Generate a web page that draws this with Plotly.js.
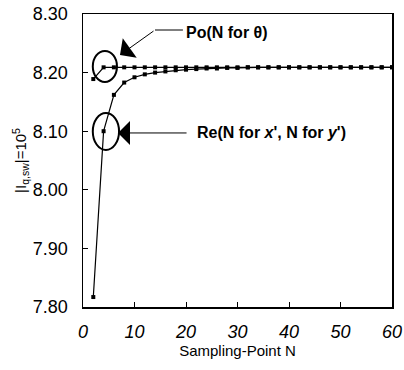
<!DOCTYPE html>
<html>
<head>
<meta charset="utf-8">
<script src="https://cdn.plot.ly/plotly-3.0.1.min.js"></script>
<style>
html,body{margin:0;padding:0;background:#fff;}
#chart{width:404px;height:370px;}
</style>
</head>
<body>
<div id="chart"></div>
<script>
// Sampling points N
const samplingN = [2,4,6,8,10,12,14,16,18,20,22,24,26,28,30,32,34,36,38,40,42,44,46,48,50,52,54,56,58,60];
// Po (N for theta)
const poValues = [8.189,8.209,8.209,8.209,8.209,8.209,8.209,8.209,8.209,8.209,8.209,8.209,8.209,8.209,8.209,8.209,8.209,8.209,8.209,8.209,8.209,8.209,8.209,8.209,8.209,8.209,8.209,8.209,8.209,8.209];
// Re (N for x', N for y')
const reValues = [7.817,8.100,8.162,8.183,8.192,8.197,8.200,8.202,8.204,8.205,8.206,8.207,8.207,8.208,8.208,8.209,8.209,8.209,8.209,8.209,8.209,8.209,8.209,8.209,8.209,8.209,8.209,8.209,8.209,8.209];
const xTicks = [0,10,20,30,40,50,60];
const yTicks = [7.80,7.90,8.00,8.10,8.20,8.30];
const yTickLabels = ['7.80','7.90','8.00','8.10','8.20','8.30'];

const FONT = 'Liberation Sans, Arial, sans-serif';

const traces = [
  {x: samplingN, y: reValues, mode: 'lines+markers', name: 'Re',
   line: {color: '#000', width: 1.2}, marker: {symbol: 'square', size: 4, color: '#000'}},
  {x: samplingN, y: poValues, mode: 'lines+markers', name: 'Po',
   line: {color: '#000', width: 1.2}, marker: {symbol: 'square', size: 4, color: '#000'}}
];

const layout = {
  width: 404, height: 370,
  margin: {l: 83, r: 12, t: 14, b: 63},
  paper_bgcolor: '#fff', plot_bgcolor: '#fff',
  showlegend: false,
  font: {family: FONT, color: '#000'},
  xaxis: {
    range: [0, 60], tickvals: xTicks, ticktext: xTicks.map(v => '<i>' + v + '</i>'),
    ticks: 'inside', ticklen: 5, tickcolor: '#000', tickwidth: 1,
    showline: true, linecolor: '#000', linewidth: 1.5, mirror: true,
    showgrid: false, zeroline: false,
    tickfont: {size: 18, family: FONT},
    ticklabelstandoff: 8,
    title: {text: 'Sampling-Point N', font: {size: 15, family: FONT}, standoff: 1}
  },
  yaxis: {
    range: [7.80, 8.30], tickvals: yTicks, ticktext: yTickLabels,
    ticks: 'inside', ticklen: 5, tickcolor: '#000', tickwidth: 1,
    showline: true, linecolor: '#000', linewidth: 1.5, mirror: true,
    showgrid: false, zeroline: false,
    tickfont: {size: 18, family: FONT},
    ticklabelstandoff: 10,
    title: {text: '|I<sub>q,sw</sub>|=10<sup>5</sup>', font: {size: 15, family: FONT}, standoff: 2}
  },
  shapes: [
    {type: 'circle', xref: 'x', yref: 'y', x0: 1.9, x1: 6.6, y0: 8.184, y1: 8.237,
     line: {color: '#000', width: 2}},
    {type: 'circle', xref: 'x', yref: 'y', x0: 1.9, x1: 7.0, y0: 8.068, y1: 8.131,
     line: {color: '#000', width: 2}},
    {type: 'line', xref: 'x', yref: 'y', x0: 13.98, x1: 19.4, y0: 8.2727, y1: 8.2727,
     line: {color: '#000', width: 1}}
  ],
  annotations: [
    {x: 19.6, y: 8.2676, xref: 'x', yref: 'y', xanchor: 'left', yanchor: 'middle',
     text: '<b>Po(N for θ)</b>', showarrow: false, font: {size: 16, family: FONT}},
    {x: 7.18, y: 8.230, xref: 'x', yref: 'y', ax: 13.98, ay: 8.2727, axref: 'x', ayref: 'y',
     text: '', showarrow: true, arrowhead: 1, arrowsize: 4, arrowwidth: 1, arrowcolor: '#000'},
    {x: 21.7, y: 8.097, xref: 'x', yref: 'y', xanchor: 'left', yanchor: 'middle',
     text: "<b>Re(N for <i>x</i>', N for <i>y</i>')</b>", showarrow: false, font: {size: 16, family: FONT}},
    {x: 6.8, y: 8.097, xref: 'x', yref: 'y', ax: 20.4, ay: 8.097, axref: 'x', ayref: 'y',
     text: '', showarrow: true, arrowhead: 1, arrowsize: 4, arrowwidth: 1, arrowcolor: '#000'}
  ]
};

Plotly.newPlot('chart', traces, layout, {displayModeBar: false, staticPlot: true});
</script>
</body>
</html>
